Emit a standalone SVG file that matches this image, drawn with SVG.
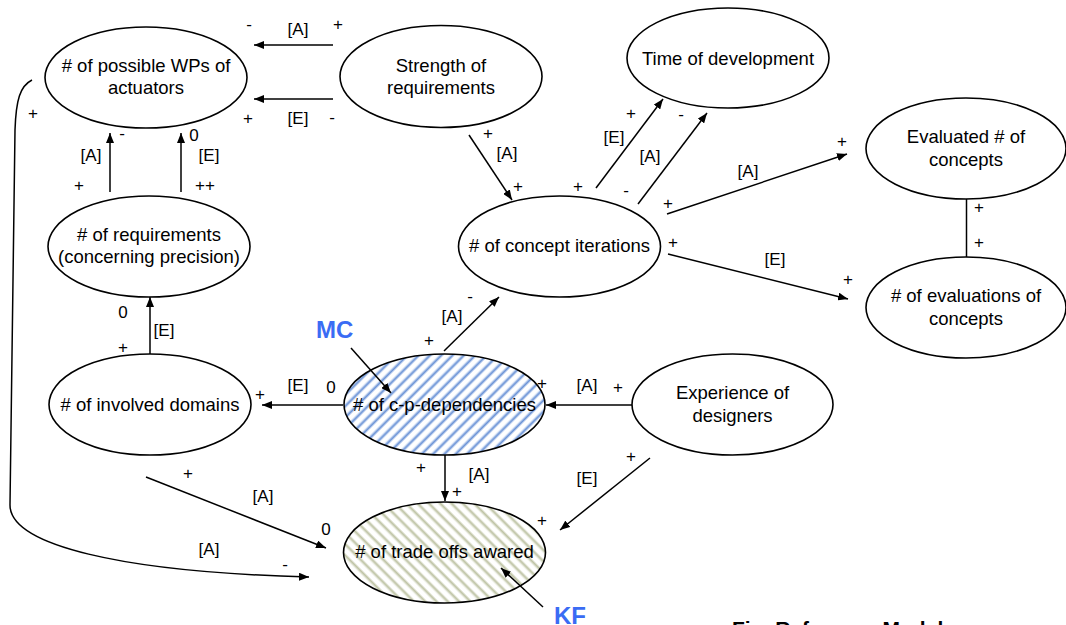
<svg xmlns="http://www.w3.org/2000/svg" width="1066" height="625" viewBox="0 0 1066 625">
<style>
.node{fill:#fff;stroke:#000;stroke-width:1.6}
.t{font-family:"Liberation Sans",Arial,sans-serif;font-size:18.5px;fill:#000;text-anchor:middle}
.l{font-family:"Liberation Sans",Arial,sans-serif;font-size:17px;fill:#000;text-anchor:middle}
.c{fill:none;stroke:#000;stroke-width:1.5}
.k{font-family:"Liberation Sans",Arial,sans-serif;font-size:24px;font-weight:bold;fill:#3a6cf4}
</style>
<defs>
<marker id="ah" viewBox="0 0 10 8" refX="10" refY="4" markerWidth="10" markerHeight="8" markerUnits="userSpaceOnUse" orient="auto">
<path d="M0,0 L10,4 L0,8 Z" fill="#000"/>
</marker>
<pattern id="hb" patternUnits="userSpaceOnUse" width="8" height="8" patternTransform="rotate(45)">
<rect width="8" height="8" fill="#fff"/>
<rect x="1.5" width="3.5" height="8" fill="#c6d6f1"/>
<rect x="2.5" width="1.6" height="8" fill="#6d94d6"/>
</pattern>
<pattern id="hg" patternUnits="userSpaceOnUse" width="8" height="8" patternTransform="rotate(-45)">
<rect width="8" height="8" fill="#fff"/>
<rect x="1.5" width="3.5" height="8" fill="#e4e6d8"/>
<rect x="2.5" width="1.6" height="8" fill="#bfc4a6"/>
</pattern>
</defs>
<rect width="1066" height="625" fill="#fff"/>

<g id="n-wps"><ellipse class="node" cx="146" cy="77.5" rx="101" ry="50.5"/><text class="t" x="146" y="72">
# of possible WPs of</text><text class="t" x="146" y="94">actuators</text></g>
<g id="n-strength"><ellipse class="node" cx="441" cy="76.5" rx="101" ry="51"/><text class="t" x="441" y="72">Strength of</text><text class="t" x="441" y="94">requirements</text></g>
<g id="n-time"><ellipse class="node" cx="728" cy="58" rx="101" ry="50"/><text class="t" x="728" y="65">Time of development</text></g>
<g id="n-evaluated"><ellipse class="node" cx="966" cy="148.5" rx="100" ry="50.5"/><text class="t" x="966" y="143">Evaluated # of</text><text class="t" x="966" y="166">concepts</text></g>
<g id="n-evaluations"><ellipse class="node" cx="966" cy="307.5" rx="100" ry="50.5"/><text class="t" x="966" y="302">
# of evaluations of</text><text class="t" x="966" y="325">concepts</text></g>
<g id="n-iterations"><ellipse class="node" cx="559.5" cy="246.5" rx="101" ry="50.5"/><text class="t" x="559.5" y="252">
# of concept iterations</text></g>
<g id="n-requirements"><ellipse class="node" cx="149" cy="246.5" rx="101" ry="50.5"/><text class="t" x="149" y="241">
# of requirements</text><text class="t" x="149" y="263">(concerning precision)</text></g>
<g id="n-domains"><ellipse class="node" cx="150" cy="404.5" rx="101" ry="50.5"/><text class="t" x="150" y="411">
# of involved domains</text></g>
<g id="n-cp"><ellipse cx="444.5" cy="404.5" rx="100.5" ry="50.5" fill="url(#hb)" stroke="#000" stroke-width="1.6"/><text class="t" x="444.5" y="411">
# of c-p-dependencies</text></g>
<g id="n-experience"><ellipse class="node" cx="732.5" cy="404.5" rx="100.5" ry="50.5"/><text class="t" x="732.5" y="399">Experience of</text><text class="t" x="732.5" y="422">designers</text></g>
<g id="n-tradeoffs"><ellipse cx="444.5" cy="552.5" rx="101" ry="50.5" fill="url(#hg)" stroke="#000" stroke-width="1.6"/><text class="t" x="444.5" y="558">
# of trade offs awared</text></g>

<g id="connectors">
<line class="c" x1="333" y1="45" x2="254" y2="45" marker-end="url(#ah)"/>
<line class="c" x1="333" y1="99" x2="254" y2="99" marker-end="url(#ah)"/>
<line class="c" x1="110" y1="192" x2="110" y2="133" marker-end="url(#ah)"/>
<line class="c" x1="181" y1="192" x2="181" y2="133" marker-end="url(#ah)"/>
<line class="c" x1="150" y1="354" x2="150" y2="297" marker-end="url(#ah)"/>
<line class="c" x1="343" y1="405" x2="262" y2="405" marker-end="url(#ah)"/>
<line class="c" x1="146" y1="477" x2="326" y2="548" marker-end="url(#ah)"/>
<path class="c" d="M32,80 C20,86 16,100 15,130 L10,505 C10,545 120,572 309,577" marker-end="url(#ah)"/>
<line class="c" x1="469" y1="135" x2="512" y2="200" marker-end="url(#ah)"/>
<line class="c" x1="596" y1="188" x2="663" y2="99" marker-end="url(#ah)"/>
<line class="c" x1="638" y1="204" x2="707" y2="113" marker-end="url(#ah)"/>
<line class="c" x1="667" y1="214" x2="847" y2="154" marker-end="url(#ah)"/>
<line class="c" x1="668" y1="254" x2="848" y2="299" marker-end="url(#ah)"/>
<line class="c" x1="966.5" y1="199" x2="966.5" y2="257"/>
<line class="c" x1="444" y1="351" x2="499" y2="297" marker-end="url(#ah)"/>
<line class="c" x1="632" y1="405" x2="546" y2="405" marker-end="url(#ah)"/>
<line class="c" x1="650" y1="458" x2="560" y2="530" marker-end="url(#ah)"/>
<line class="c" x1="445" y1="455" x2="445" y2="501" marker-end="url(#ah)"/>
<line class="c" x1="351" y1="348" x2="391" y2="393" marker-end="url(#ah)"/>
<line class="c" x1="543" y1="607" x2="501" y2="568" marker-end="url(#ah)"/>
</g>

<g id="labels">
<text class="l" x="249" y="30">-</text>
<text class="l" x="298" y="35">[A]</text>
<text class="l" x="338" y="30">+</text>
<text class="l" x="248" y="124">+</text>
<text class="l" x="298" y="124">[E]</text>
<text class="l" x="332" y="123">-</text>
<text class="l" x="91" y="161">[A]</text>
<text class="l" x="122" y="139">-</text>
<text class="l" x="79" y="191">+</text>
<text class="l" x="194" y="141">0</text>
<text class="l" x="209" y="161">[E]</text>
<text class="l" x="205" y="191">++</text>
<text class="l" x="33" y="119">+</text>
<text class="l" x="123" y="318">0</text>
<text class="l" x="164" y="336">[E]</text>
<text class="l" x="123" y="353">+</text>
<text class="l" x="260" y="400">+</text>
<text class="l" x="298" y="391">[E]</text>
<text class="l" x="331" y="393">0</text>
<text class="l" x="188" y="479">+</text>
<text class="l" x="263" y="502">[A]</text>
<text class="l" x="326" y="535">0</text>
<text class="l" x="209" y="555">[A]</text>
<text class="l" x="285" y="570">-</text>
<text class="l" x="488" y="139">+</text>
<text class="l" x="507" y="159">[A]</text>
<text class="l" x="518" y="192">+</text>
<text class="l" x="578" y="192">+</text>
<text class="l" x="614" y="143">[E]</text>
<text class="l" x="631" y="119">+</text>
<text class="l" x="681" y="120">-</text>
<text class="l" x="650" y="162">[A]</text>
<text class="l" x="626" y="196">-</text>
<text class="l" x="668" y="209">+</text>
<text class="l" x="748" y="177">[A]</text>
<text class="l" x="842" y="147">+</text>
<text class="l" x="673" y="248">+</text>
<text class="l" x="775" y="265">[E]</text>
<text class="l" x="848" y="285">+</text>
<text class="l" x="979" y="213">+</text>
<text class="l" x="979" y="248">+</text>
<text class="l" x="429" y="346">+</text>
<text class="l" x="452" y="322">[A]</text>
<text class="l" x="470" y="302">-</text>
<text class="l" x="542" y="389">+</text>
<text class="l" x="587" y="391">[A]</text>
<text class="l" x="618" y="393">+</text>
<text class="l" x="631" y="462">+</text>
<text class="l" x="587" y="484">[E]</text>
<text class="l" x="542" y="526">+</text>
<text class="l" x="421" y="473">+</text>
<text class="l" x="479" y="480">[A]</text>
<text class="l" x="457" y="497">+</text>
<text class="k" x="316" y="338">MC</text>
<text class="k" x="554" y="624">KF</text>
<text x="732" y="636" style="font-family:'Liberation Sans',Arial,sans-serif;font-size:21px;font-weight:bold;fill:#000">Fig. Reference Model</text>
</g>
</svg>
